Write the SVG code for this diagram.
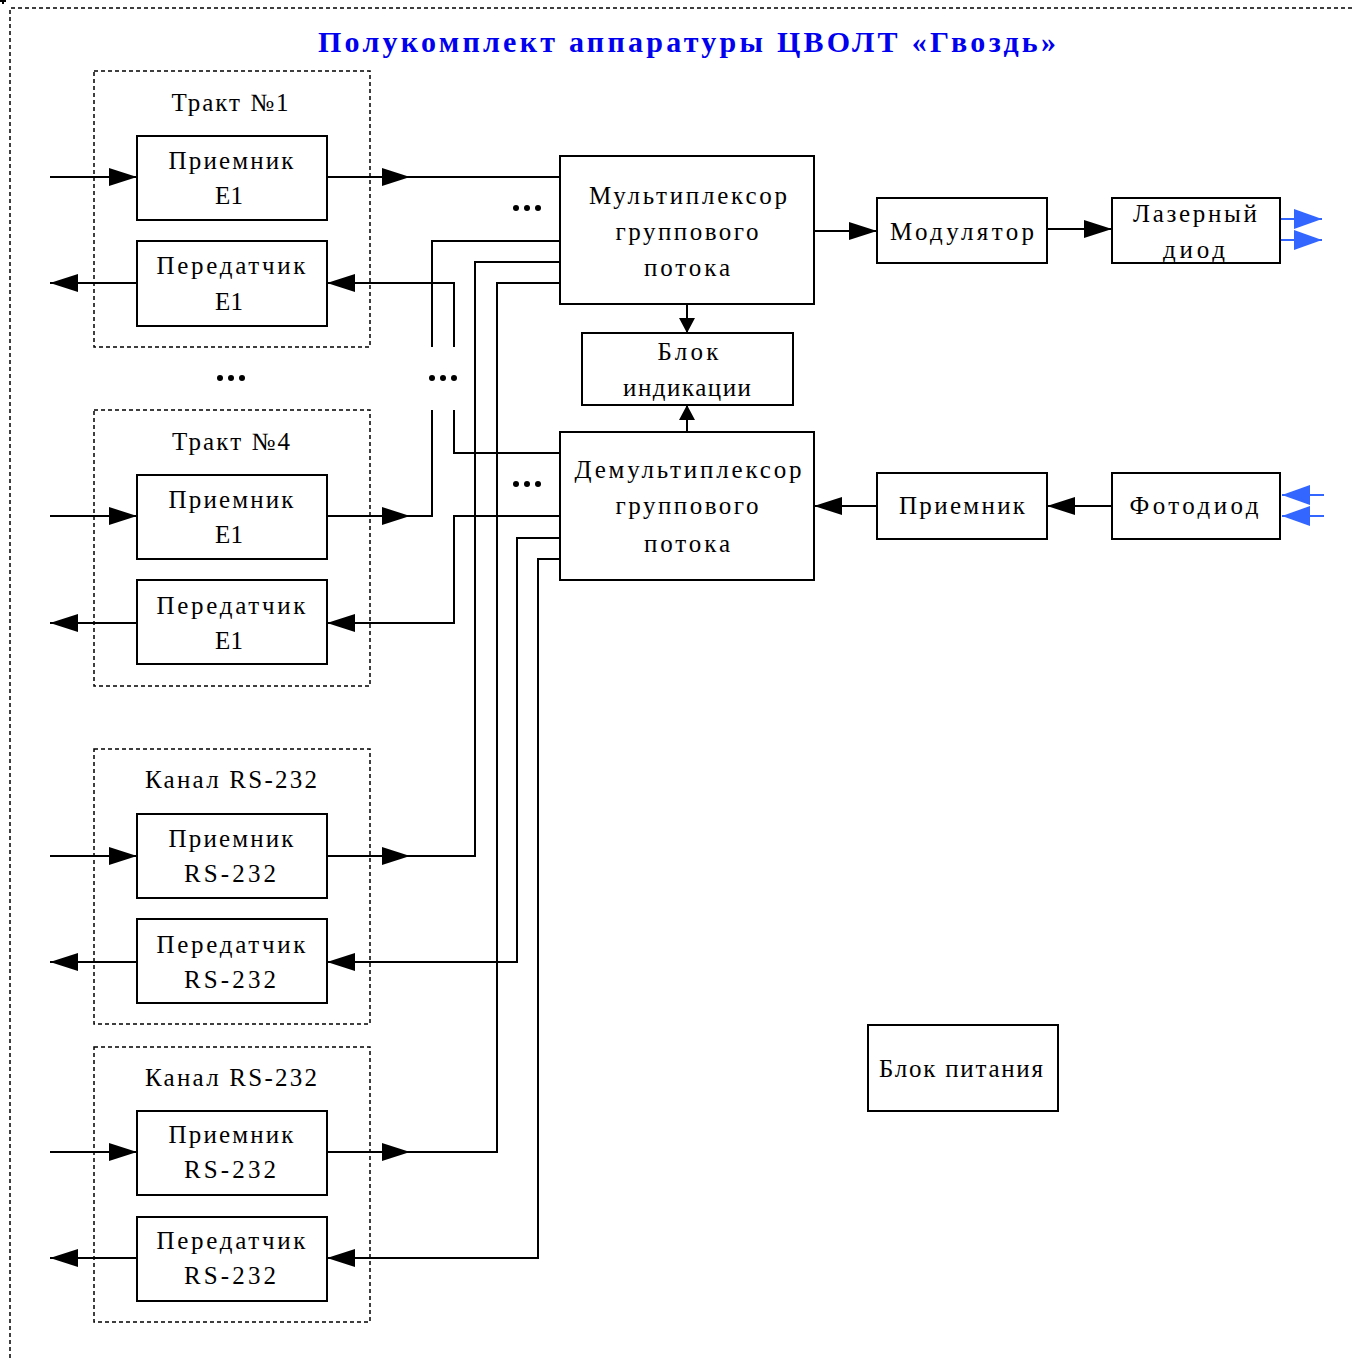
<svg xmlns="http://www.w3.org/2000/svg" width="1355" height="1358" viewBox="0 0 1355 1358">
<style>
.bg{fill:#fff}
.dash{fill:none;stroke:#000;stroke-width:1.5;stroke-dasharray:4,3}
.box{fill:#fff;stroke:#000;stroke-width:2}
.ln{fill:none;stroke:#000;stroke-width:2}
.bl{fill:none;stroke:#3366ff;stroke-width:2}
text{font-family:"Liberation Serif","Times New Roman",serif;font-size:25px;fill:#000;text-anchor:middle}
.title{font-weight:bold;font-size:30px;fill:#0000ee}
.dot{fill:#000}
</style>
<defs>
<marker id="a" markerUnits="userSpaceOnUse" markerWidth="28" markerHeight="18" refX="28" refY="9" orient="auto"><path d="M0,0 L28,9 L0,18 z" fill="#000"/></marker>
<marker id="s" markerUnits="userSpaceOnUse" markerWidth="15" markerHeight="16" refX="15" refY="8" orient="auto"><path d="M0,0 L15,8 L0,16 z" fill="#000"/></marker>
<marker id="b" markerUnits="userSpaceOnUse" markerWidth="28" markerHeight="20" refX="28" refY="10" orient="auto"><path d="M0,0 L28,10 L0,20 z" fill="#3366ff"/></marker>
</defs>
<rect class="bg" x="0" y="0" width="1355" height="1358"/>
<path class="ln" d="M0,1 H6 M3,1 V4" stroke-width="1"/>
<path class="dash" d="M10,1358 V8 H1355"/>
<text class="title" x="687" y="52" textLength="738" lengthAdjust="spacing">Полукомплект аппаратуры ЦВОЛТ «Гвоздь»</text>

<g id="connectors">
<!-- left inputs/outputs -->
<path class="ln" marker-end="url(#a)" d="M50,177 H137"/>
<path class="ln" marker-end="url(#a)" d="M137,283 H50"/>
<path class="ln" marker-end="url(#a)" d="M50,516 H137"/>
<path class="ln" marker-end="url(#a)" d="M137,623 H50"/>
<path class="ln" marker-end="url(#a)" d="M50,856 H137"/>
<path class="ln" marker-end="url(#a)" d="M137,962 H50"/>
<path class="ln" marker-end="url(#a)" d="M50,1152 H137"/>
<path class="ln" marker-end="url(#a)" d="M137,1258 H50"/>
<!-- tract 1 receiver -> mux -->
<path class="ln" marker-end="url(#a)" d="M327,177 H410"/>
<path class="ln" d="M410,177 H560"/>
<!-- demux -> tract 1 transmitter -->
<path class="ln" marker-end="url(#a)" d="M560,453 H454 V410 M454,347 V283 H327"/>
<!-- tract 4 receiver -> mux -->
<path class="ln" marker-end="url(#a)" d="M327,516 H410"/>
<path class="ln" d="M410,516 H432 V410 M432,347 V241 H560"/>
<!-- demux -> tract 4 transmitter -->
<path class="ln" marker-end="url(#a)" d="M560,516 H454 V623 H327"/>
<!-- RS1 receiver -> mux -->
<path class="ln" marker-end="url(#a)" d="M327,856 H410"/>
<path class="ln" d="M410,856 H475 V262 H560"/>
<!-- demux -> RS1 transmitter -->
<path class="ln" marker-end="url(#a)" d="M560,538 H517 V962 H327"/>
<!-- RS2 receiver -> mux -->
<path class="ln" marker-end="url(#a)" d="M327,1152 H410"/>
<path class="ln" d="M410,1152 H497 V283 H560"/>
<!-- demux -> RS2 transmitter -->
<path class="ln" marker-end="url(#a)" d="M560,559 H538 V1258 H327"/>
<!-- mux/demux -> indication -->
<path class="ln" marker-end="url(#s)" d="M687,304 V333"/>
<path class="ln" marker-end="url(#s)" d="M687,432 V405"/>
<!-- right chain -->
<path class="ln" marker-end="url(#a)" d="M814,231 H877"/>
<path class="ln" marker-end="url(#a)" d="M1047,229 H1112"/>
<path class="ln" marker-end="url(#a)" d="M877,506 H814"/>
<path class="ln" marker-end="url(#a)" d="M1112,506 H1047"/>
<path class="bl" marker-end="url(#b)" d="M1280,219 H1322"/>
<path class="bl" marker-end="url(#b)" d="M1280,240 H1322"/>
<path class="bl" marker-end="url(#b)" d="M1324,495 H1282"/>
<path class="bl" marker-end="url(#b)" d="M1324,516 H1282"/>
</g>

<g id="dots">
<circle class="dot" cx="516" cy="208" r="3"/><circle class="dot" cx="527" cy="208" r="3"/><circle class="dot" cx="538" cy="208" r="3"/>
<circle class="dot" cx="516" cy="484" r="3"/><circle class="dot" cx="527" cy="484" r="3"/><circle class="dot" cx="538" cy="484" r="3"/>
<circle class="dot" cx="220" cy="378" r="3"/><circle class="dot" cx="231" cy="378" r="3"/><circle class="dot" cx="242" cy="378" r="3"/>
<circle class="dot" cx="432" cy="378" r="3"/><circle class="dot" cx="443" cy="378" r="3"/><circle class="dot" cx="454" cy="378" r="3"/>
</g>

<g id="tract1">
<rect class="dash" x="94" y="71" width="276" height="276"/>
<text x="230" y="111" textLength="117" lengthAdjust="spacing">Тракт №1</text>
<g id="rx1"><rect class="box" x="137" y="136" width="190" height="84"/>
<text x="231" y="169" textLength="125" lengthAdjust="spacing">Приемник</text>
<text x="229" y="204" textLength="28" lengthAdjust="spacing">Е1</text></g>
<g id="tx1"><rect class="box" x="137" y="241" width="190" height="85"/>
<text x="231" y="274" textLength="149" lengthAdjust="spacing">Передатчик</text>
<text x="229" y="310" textLength="28" lengthAdjust="spacing">Е1</text></g>
</g>

<g id="tract4">
<rect class="dash" x="94" y="410" width="276" height="276"/>
<text x="231" y="450" textLength="118" lengthAdjust="spacing">Тракт №4</text>
<g id="rx4"><rect class="box" x="137" y="475" width="190" height="84"/>
<text x="231" y="508" textLength="125" lengthAdjust="spacing">Приемник</text>
<text x="229" y="543" textLength="28" lengthAdjust="spacing">Е1</text></g>
<g id="tx4"><rect class="box" x="137" y="580" width="190" height="84"/>
<text x="231" y="614" textLength="149" lengthAdjust="spacing">Передатчик</text>
<text x="229" y="649" textLength="28" lengthAdjust="spacing">Е1</text></g>
</g>

<g id="rs1">
<rect class="dash" x="94" y="749" width="276" height="275"/>
<text x="231" y="788" textLength="172" lengthAdjust="spacing">Канал RS-232</text>
<g id="rxrs1"><rect class="box" x="137" y="814" width="190" height="84"/>
<text x="231" y="847" textLength="125" lengthAdjust="spacing">Приемник</text>
<text x="230" y="882" textLength="92" lengthAdjust="spacing">RS-232</text></g>
<g id="txrs1"><rect class="box" x="137" y="919" width="190" height="84"/>
<text x="231" y="953" textLength="149" lengthAdjust="spacing">Передатчик</text>
<text x="230" y="988" textLength="92" lengthAdjust="spacing">RS-232</text></g>
</g>

<g id="rs2">
<rect class="dash" x="94" y="1047" width="276" height="275"/>
<text x="231" y="1086" textLength="172" lengthAdjust="spacing">Канал RS-232</text>
<g id="rxrs2"><rect class="box" x="137" y="1111" width="190" height="84"/>
<text x="231" y="1143" textLength="125" lengthAdjust="spacing">Приемник</text>
<text x="230" y="1178" textLength="92" lengthAdjust="spacing">RS-232</text></g>
<g id="txrs2"><rect class="box" x="137" y="1217" width="190" height="84"/>
<text x="231" y="1249" textLength="149" lengthAdjust="spacing">Передатчик</text>
<text x="230" y="1284" textLength="92" lengthAdjust="spacing">RS-232</text></g>
</g>

<g id="mux"><rect class="box" x="560" y="156" width="254" height="148"/>
<text x="688" y="204" textLength="198" lengthAdjust="spacing">Мультиплексор</text>
<text x="687" y="240" textLength="143" lengthAdjust="spacing">группового</text>
<text x="687" y="276" textLength="86" lengthAdjust="spacing">потока</text></g>

<g id="indic"><rect class="box" x="582" y="333" width="211" height="72"/>
<text x="688" y="360" textLength="61" lengthAdjust="spacing">Блок</text>
<text x="687" y="396" textLength="128" lengthAdjust="spacing">индикации</text></g>

<g id="demux"><rect class="box" x="560" y="432" width="254" height="148"/>
<text x="688" y="478" textLength="227" lengthAdjust="spacing">Демультиплексор</text>
<text x="687" y="514" textLength="143" lengthAdjust="spacing">группового</text>
<text x="687" y="552" textLength="86" lengthAdjust="spacing">потока</text></g>

<g id="modulator"><rect class="box" x="877" y="198" width="170" height="65"/>
<text x="962" y="240" textLength="144" lengthAdjust="spacing">Модулятор</text></g>

<g id="laser"><rect class="box" x="1112" y="198" width="168" height="65"/>
<text x="1195" y="222" textLength="124" lengthAdjust="spacing">Лазерный</text>
<text x="1194" y="258" textLength="62" lengthAdjust="spacing">диод</text></g>

<g id="receiver"><rect class="box" x="877" y="473" width="170" height="66"/>
<text x="962" y="514" textLength="126" lengthAdjust="spacing">Приемник</text></g>

<g id="photodiode"><rect class="box" x="1112" y="473" width="168" height="66"/>
<text x="1194" y="514" textLength="129" lengthAdjust="spacing">Фотодиод</text></g>

<g id="power"><rect class="box" x="868" y="1025" width="190" height="86"/>
<text x="961" y="1077" textLength="164" lengthAdjust="spacing">Блок питания</text></g>
</svg>
